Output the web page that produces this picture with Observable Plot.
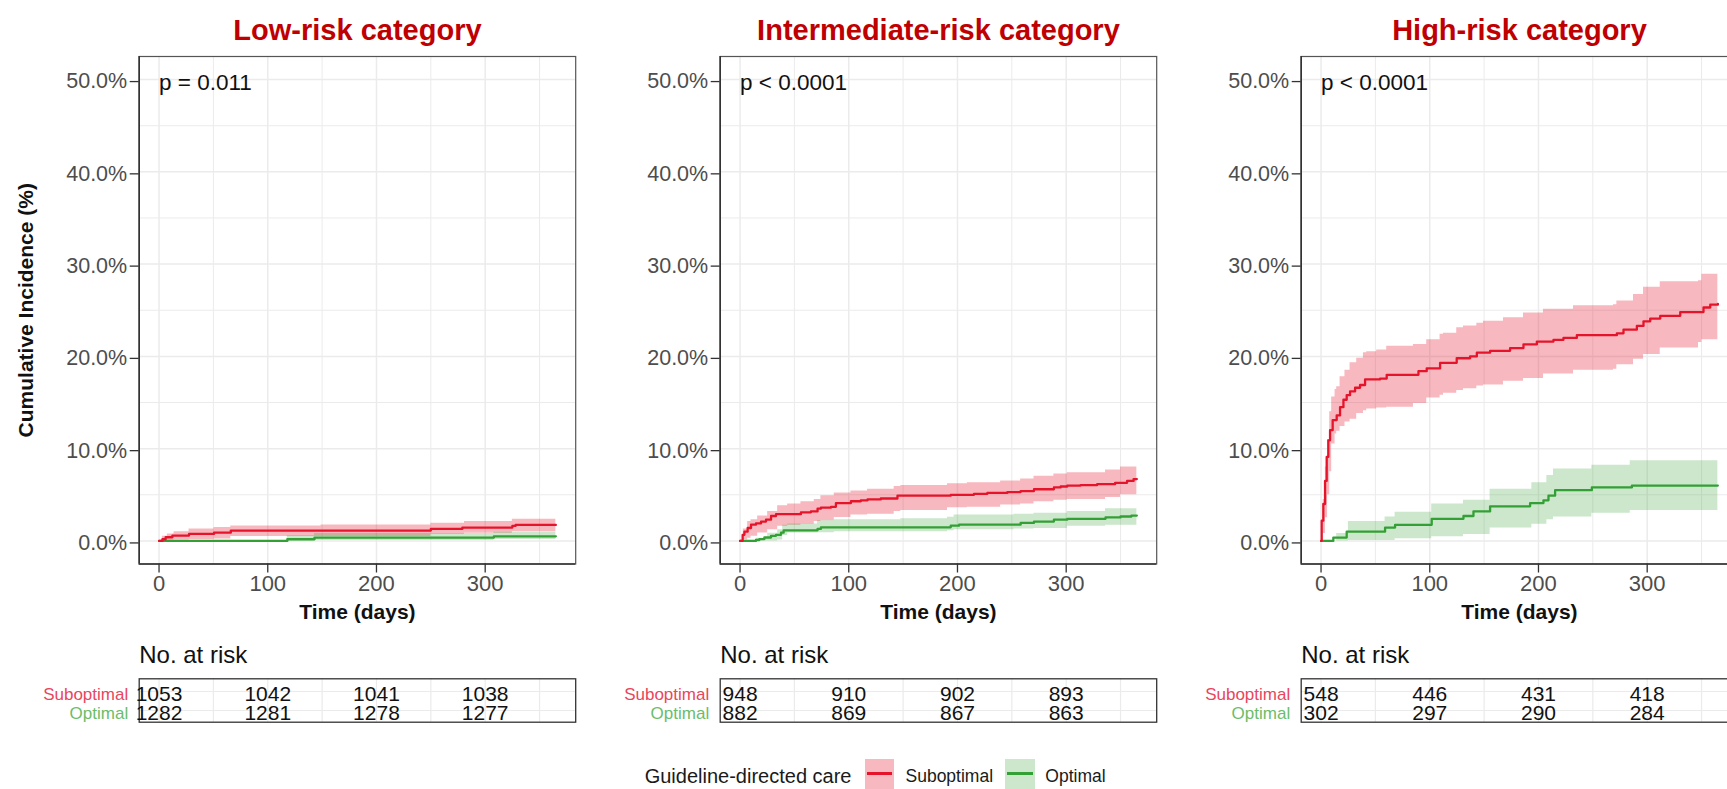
<!DOCTYPE html>
<html>
<head>
<meta charset="utf-8">
<script src="https://cdn.jsdelivr.net/npm/d3@7"></script>
<script src="https://cdn.jsdelivr.net/npm/@observablehq/plot@0.6"></script>
<style>
  html, body { margin: 0; padding: 0; background: #fff; overflow: hidden; }
  #wrap { position: relative; width: 1727px; height: 789px; overflow: hidden; font-family: "Liberation Sans", Arial, sans-serif; }
  .leg { position: absolute; white-space: nowrap; color: #1a1a1a; line-height: 1; }
  .sw { position: absolute; }
  .sw .ln { position: absolute; left: 2px; right: 2px; top: 13.5px; height: 3px; }
</style>
</head>
<body>
<div id="wrap"></div>
<script>
// ---------------- data ----------------
const panelTitles = ["Low-risk category", "Intermediate-risk category", "High-risk category"];
const pValues = ["p = 0.011", "p < 0.0001", "p < 0.0001"];
const groups = ["Suboptimal", "Optimal"];
const xTicks = [0, 100, 200, 300];
const xMinor = [50, 150, 250, 350];
const yTicks = [0, 10, 20, 30, 40, 50];
const yMinor = [5, 15, 25, 35, 45];
const riskTimes = [0, 100, 200, 300];

// Low-risk
const lowSubT = [0, 3.1, 6.1, 12.3, 27.6, 50.6, 66, 250, 279, 325, 328, 365];
const lowSubV = [0, 0.18, 0.4, 0.58, 0.76, 0.9, 1.12, 1.3, 1.45, 1.63, 1.74, 1.74];
const lowSubBandT = [0, 3.1, 7.7, 13.8, 27.6, 50.6, 66, 149, 250, 281, 325, 365];
const lowSubHi = [0, 0.5, 0.76, 1.0, 1.3, 1.45, 1.63, 1.74, 1.92, 2.1, 2.35, 2.5];
const lowSubLo = [0, 0, 0.05, 0.1, 0.15, 0.2, 0.47, 0.47, 0.72, 0.83, 1.0, 1.0];
const lowOptT = [0, 118, 143, 308, 365];
const lowOptV = [0, 0.18, 0.36, 0.5, 0.5];
const lowOptBandT = [0, 118, 143, 308, 365];
const lowOptHi = [0, 0.55, 0.8, 0.95, 0.95];
const lowOptLo = [0, 0, 0.05, 0.15, 0.15];
const lowSubRisk = [1053, 1042, 1041, 1038];
const lowOptRisk = [1282, 1281, 1278, 1277];

// Intermediate-risk
const intSubT = [0, 2.4, 4, 7, 10.1, 14.7, 19.3, 23.9, 28.5, 33.1, 56, 65.2, 71.3, 74.4, 83.6, 88.2, 102, 111.1, 117.3, 129.5, 144.8, 193.8, 215.2, 227.5, 245.9, 258.1, 270.4, 288.7, 294.9, 301, 313.2, 328.5, 345, 356, 362, 365];
const intSubV = [0, 0.66, 1.0, 1.4, 1.76, 1.9, 2.1, 2.3, 2.7, 2.9, 3.1, 3.2, 3.5, 3.6, 3.7, 4.1, 4.3, 4.4, 4.5, 4.6, 4.9, 5.0, 5.1, 5.2, 5.3, 5.4, 5.6, 5.8, 5.9, 6.0, 6.05, 6.15, 6.3, 6.5, 6.7, 6.7];
const intSubBandT = [0, 3, 7, 10.1, 16.2, 25.4, 34.6, 43.8, 56, 68.3, 74.4, 86.7, 102, 117.3, 141.8, 147.9, 190.8, 209.1, 239.7, 258.1, 270.4, 288.7, 301, 336.2, 350, 365];
const intSubHi = [0, 1.3, 2.1, 2.3, 2.7, 3.2, 3.8, 4.0, 4.25, 4.5, 4.9, 5.2, 5.4, 5.6, 5.9, 6.0, 6.2, 6.3, 6.5, 6.7, 7.0, 7.25, 7.4, 7.7, 8.0, 8.2];
const intSubLo = [0, 0.1, 0.3, 0.5, 0.85, 1.2, 1.6, 1.7, 1.8, 2.1, 2.2, 2.55, 2.8, 2.9, 3.2, 3.3, 3.6, 3.66, 3.9, 4.0, 4.25, 4.4, 4.5, 4.7, 5.0, 5.2];
const intOptT = [0, 14.7, 17.8, 22.4, 28.5, 33.1, 37.7, 40.1, 71.3, 74.4, 193.8, 201.5, 258.1, 270.4, 288.7, 301, 336.2, 350, 360, 365];
const intOptV = [0, 0.1, 0.2, 0.37, 0.55, 0.66, 0.9, 1.15, 1.3, 1.47, 1.65, 1.76, 1.95, 2.1, 2.3, 2.4, 2.55, 2.65, 2.75, 2.75];
const intOptBandT = [0, 14.7, 25.4, 34.6, 39.2, 43.8, 71.3, 86.7, 147.9, 190.8, 196.9, 252, 270.4, 301, 336.2, 365];
const intOptHi = [0, 0.3, 0.84, 1.2, 1.7, 1.83, 2.2, 2.3, 2.4, 2.56, 2.8, 2.9, 3.0, 3.2, 3.5, 3.8];
const intOptLo = [0, 0, 0, 0.1, 0.6, 0.85, 0.9, 1.0, 1.0, 1.1, 1.2, 1.3, 1.35, 1.6, 1.7, 1.8];
const intSubRisk = [948, 910, 902, 893];
const intOptRisk = [882, 869, 867, 863];

// High-risk
const highSubT = [0, 0.6, 2.1, 3.7, 5.2, 6.7, 8.3, 10.7, 14.4, 17.5, 20.6, 23.6, 26.7, 31.3, 35.9, 40.5, 54.3, 60.4, 89.6, 97.2, 109.5, 124.8, 137.1, 143.3, 155.5, 173.9, 186.2, 198.5, 213.8, 223, 235.3, 272.1, 278.2, 290.5, 296.6, 302.8, 312, 330.4, 351.8, 358, 365];
const highSubV = [0, 2.2, 4.0, 6.5, 9.1, 10.9, 12.0, 13.1, 13.6, 14.5, 15.3, 15.8, 16.2, 16.6, 16.9, 17.5, 17.6, 18.0, 18.4, 18.7, 19.3, 19.8, 20.0, 20.4, 20.6, 20.9, 21.3, 21.6, 21.8, 22.0, 22.3, 22.5, 22.9, 23.3, 23.8, 24.1, 24.4, 24.8, 25.3, 25.6, 25.7];
const highSubBandT = [0, 2, 4, 6, 8, 9.8, 12.9, 14.4, 17.5, 22, 26.7, 32.8, 39, 42, 51.2, 60.4, 85, 97.2, 109.5, 112.6, 124.8, 131, 143.3, 149.4, 167.8, 186.2, 204.6, 232.2, 269, 272.1, 287.4, 296.6, 312, 347.2, 350.3, 365];
const highSubHi = [0, 4.5, 8, 11, 14, 15.6, 16.4, 16.7, 17.8, 18.5, 19.3, 19.8, 20.4, 20.5, 20.7, 21.1, 21.3, 21.8, 22.4, 22.5, 23.1, 23.3, 23.6, 23.8, 24.2, 24.7, 25.1, 25.5, 25.6, 26.0, 26.7, 27.5, 28.1, 28.2, 28.9, 29.2];
const highSubLo = [0, 0.8, 2.5, 5, 7.5, 10.5, 11.6, 11.9, 12.4, 12.9, 13.2, 13.8, 14.1, 14.3, 14.4, 14.5, 14.9, 15.5, 15.8, 16.0, 16.3, 16.5, 16.8, 16.9, 17.3, 17.6, 18.1, 18.5, 18.6, 19.1, 19.7, 20.2, 20.9, 21.5, 21.8, 22.0];
const highOptT = [0, 11.3, 23.6, 58.9, 68.1, 101.8, 131, 140.2, 155.5, 192.3, 204.6, 209.2, 215.3, 249.1, 285.9, 365];
const highOptV = [0, 0.36, 1.0, 1.45, 1.75, 2.4, 2.7, 3.2, 3.75, 4.1, 4.4, 4.9, 5.5, 5.8, 6.0, 6.0];
const highOptBandT = [0, 14.4, 25.2, 58.9, 68.1, 101.8, 131, 155.5, 193.9, 207.7, 213.8, 249.1, 284.4, 365];
const highOptHi = [0, 0.8, 2.1, 2.6, 3.1, 4.0, 4.4, 5.6, 6.3, 7.1, 7.8, 8.2, 8.7, 8.7];
const highOptLo = [0, 0, 0.05, 0.05, 0.25, 0.45, 0.7, 1.4, 1.8, 2.3, 2.6, 3.0, 3.3, 3.35];
const highSubRisk = [548, 446, 431, 418];
const highOptRisk = [302, 297, 290, 284];

// ---------------- styling ----------------
const RED = "#E6142B", GREEN = "#33A035";
const RED_LABEL = "#E9465C", GREEN_LABEL = "#6ABD6A";
const GRID = "#EBEBEB";
const FONT = "'Liberation Sans', Arial, sans-serif";
const X_DOMAIN = [-18.25, 383.25];
const Y_DOMAIN = [-2.5, 52.5];
const OFFSETS = [0, 581, 1162];
const PW = 581, ML = 138.7, MR = 5.8;

const line = (t, v) => t.map((d, i) => ({t: d, v: v[i]}));
const band = (t, lo, hi) => t.map((d, i) => ({t: d, lo: lo[i], hi: hi[i]}));

const panels = [
  {sub: line(lowSubT, lowSubV), subBand: band(lowSubBandT, lowSubLo, lowSubHi),
   opt: line(lowOptT, lowOptV), optBand: band(lowOptBandT, lowOptLo, lowOptHi),
   subRisk: lowSubRisk, optRisk: lowOptRisk},
  {sub: line(intSubT, intSubV), subBand: band(intSubBandT, intSubLo, intSubHi),
   opt: line(intOptT, intOptV), optBand: band(intOptBandT, intOptLo, intOptHi),
   subRisk: intSubRisk, optRisk: intOptRisk},
  {sub: line(highSubT, highSubV), subBand: band(highSubBandT, highSubLo, highSubHi),
   opt: line(highOptT, highOptV), optBand: band(highOptBandT, highOptLo, highOptHi),
   subRisk: highSubRisk, optRisk: highOptRisk}
];

const wrap = document.getElementById("wrap");

function place(el, left, top) {
  el.style.position = "absolute";
  el.style.left = left + "px";
  el.style.top = top + "px";
  wrap.appendChild(el);
}

panels.forEach((p, i) => {
  const marks = [
    Plot.gridX(xMinor, {stroke: GRID, strokeOpacity: 1, strokeWidth: 1}),
    Plot.gridY(yMinor, {stroke: GRID, strokeOpacity: 1, strokeWidth: 1}),
    Plot.gridX(xTicks, {stroke: GRID, strokeOpacity: 1, strokeWidth: 1.5}),
    Plot.gridY(yTicks, {stroke: GRID, strokeOpacity: 1, strokeWidth: 1.5}),
    Plot.areaY(p.subBand, {x: "t", y1: "lo", y2: "hi", curve: "step-after", fill: RED, fillOpacity: 0.3}),
    Plot.areaY(p.optBand, {x: "t", y1: "lo", y2: "hi", curve: "step-after", fill: GREEN, fillOpacity: 0.25}),
    Plot.line(p.opt, {x: "t", y: "v", curve: "step-after", stroke: GREEN, strokeWidth: 2.3}),
    Plot.line(p.sub, {x: "t", y: "v", curve: "step-after", stroke: RED, strokeWidth: 2.3}),
    Plot.frame({stroke: "#555", strokeWidth: 1.2}),
    Plot.ruleX([X_DOMAIN[0]], {stroke: "#333", strokeWidth: 1.6}),
    Plot.ruleY([Y_DOMAIN[0]], {stroke: "#333", strokeWidth: 1.6}),
    Plot.axisY(yTicks, {tickSize: 9, tickPadding: 3, stroke: "#333", strokeWidth: 1.3, fill: "#4D4D4D",
      fontSize: 21.5, dy: 2, tickFormat: d => d.toFixed(1) + "%", label: null}),
    Plot.axisX(xTicks, {tickSize: 9, tickPadding: 2.5, stroke: "#333", strokeWidth: 1.3, fill: "#4D4D4D",
      fontSize: 22, tickFormat: d => String(d), label: null}),
    Plot.text([pValues[i]], {x: 0, y: 50, textAnchor: "start", lineAnchor: "middle", fontSize: 22.5, fill: "#111", dy: 3}),
    Plot.text(["Time (days)"], {frameAnchor: "bottom", textAnchor: "middle", lineAnchor: "middle", dy: 48,
      fontSize: 21, fontWeight: "bold", fill: "#111"}),
    Plot.text([panelTitles[i]], {frameAnchor: "top", textAnchor: "middle", lineAnchor: "middle", dy: -26,
      fontSize: 29, fontWeight: "bold", fill: "#C00000"})
  ];
  if (i === 0) {
    marks.push(Plot.text(["Cumulative Incidence (%)"], {frameAnchor: "left", textAnchor: "middle", lineAnchor: "middle",
      dx: -112.7, rotate: -90, fontSize: 21, fontWeight: "bold", fill: "#111"}));
  }
  const main = Plot.plot({
    width: PW, height: 640,
    marginLeft: ML, marginRight: MR, marginTop: 56, marginBottom: 76.5,
    x: {domain: X_DOMAIN, axis: null},
    y: {domain: Y_DOMAIN, axis: null},
    style: {fontFamily: FONT, background: "transparent", overflow: "visible"},
    marks
  });
  place(main, OFFSETS[i], 0);

  const riskRows = [];
  riskTimes.forEach((t, k) => {
    riskRows.push({t, row: groups[0], n: p.subRisk[k]});
    riskRows.push({t, row: groups[1], n: p.optRisk[k]});
  });
  const risk = Plot.plot({
    width: PW, height: 100,
    marginLeft: ML, marginRight: MR, marginTop: 48.3, marginBottom: 8.3,
    x: {domain: X_DOMAIN, axis: null},
    y: {type: "point", domain: groups, range: [60.1, 79.9], padding: 0, axis: null},
    style: {fontFamily: FONT, background: "transparent", overflow: "visible"},
    marks: [
      Plot.gridX([0, 50, 100, 150, 200, 250, 300, 350], {stroke: GRID, strokeOpacity: 1, strokeWidth: 1.2}),
      Plot.gridY(groups, {stroke: GRID, strokeOpacity: 1, strokeWidth: 1.2}),
      Plot.frame({stroke: "#333", strokeWidth: 1.3}),
      Plot.text(riskRows, {x: "t", y: "row", text: d => String(d.n), textAnchor: "middle", lineAnchor: "middle",
        fontSize: 21, fill: "#111", dy: 3.2}),
      Plot.text([groups[0]], {frameAnchor: "left", y: d => d, text: d => d, textAnchor: "end", lineAnchor: "middle",
        dx: -11, fontSize: 17, fill: RED_LABEL, dy: 3}),
      Plot.text([groups[1]], {frameAnchor: "left", y: d => d, text: d => d, textAnchor: "end", lineAnchor: "middle",
        dx: -11, fontSize: 17, fill: GREEN_LABEL, dy: 3}),
      Plot.text(["No. at risk"], {frameAnchor: "top-left", dy: -23, textAnchor: "start", lineAnchor: "middle",
        fontSize: 24, fill: "#111"})
    ]
  });
  place(risk, OFFSETS[i], 630);
});

// ---------------- legend ----------------
function legText(txt, left, baseline, size) {
  const d = document.createElement("div");
  d.className = "leg";
  d.textContent = txt;
  d.style.fontSize = size + "px";
  d.style.fontFamily = FONT;
  place(d, left, baseline - 0.8465 * size);
}
function swatch(left, fill, stroke) {
  const d = document.createElement("div");
  d.className = "sw";
  d.style.width = "29.6px";
  d.style.height = "30px";
  d.style.background = fill;
  const l = document.createElement("div");
  l.className = "ln";
  l.style.background = stroke;
  d.appendChild(l);
  place(d, left, 758.5);
}
legText("Guideline-directed care", 644.7, 783, 20);
swatch(864.8, "#F7B8BF", RED);
legText(groups[0], 905.5, 783, 17.5);
swatch(1005.4, "#CCE7CC", GREEN);
legText(groups[1], 1045.3, 783, 17.5);
</script>
</body>
</html>
